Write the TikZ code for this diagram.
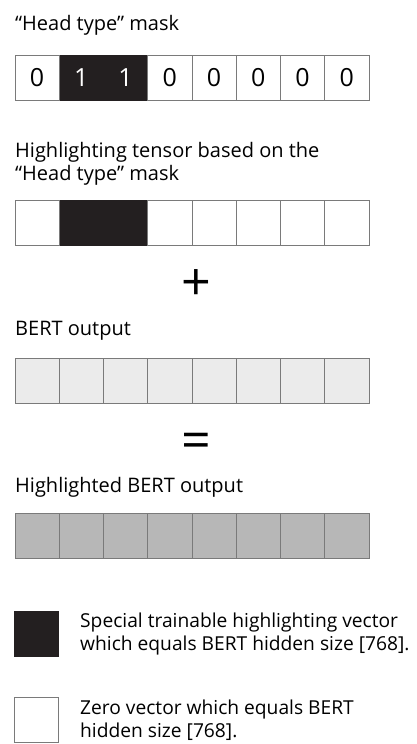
\documentclass[tikz,border=0pt]{standalone}
\usepackage{fontspec}
\setmainfont{Open Sans}
\usetikzlibrary{positioning}
\definecolor{hlblack}{HTML}{231F20}
\definecolor{bertgray}{HTML}{EBEBEB}
\definecolor{outgray}{HTML}{B7B7B7}
\definecolor{edge}{HTML}{7A7A7A}

\begin{document}
\begin{tikzpicture}[x=1pt, y=-1pt, font=\fontsize{20}{23}\selectfont,
    cell/.style={draw=edge, line width=1pt, minimum width=44.25pt, minimum height=45.5pt,
                 inner sep=0pt, outer sep=0pt, anchor=north west},
    title/.style={anchor=base west, inner sep=0pt, align=left}]
    \useasboundingbox (0, 0) rectangle (417, 744);

    \node[title] (masktitle) at (15, 30) {“Head type” mask};
    \foreach \v/\f/\d/\t [count=\i from 0] in {0/white/edge/black, 1/hlblack/hlblack/white, 1/hlblack/hlblack/white,
                                              0/white/edge/black, 0/white/edge/black, 0/white/edge/black,
                                              0/white/edge/black, 0/white/edge/black}
        \node[cell, fill=\f, draw=\d, text=\t, font=\fontsize{25}{25}\selectfont] (mask\i) at (15 + 44.25*\i, 55) {\v};
    \draw[edge, line width=1pt] (mask0.north east) -- (mask0.south east) (mask3.north west) -- (mask3.south west);

    \node[title] (hltitle) at (15, 180) {Highlighting tensor based on the\\“Head type” mask};
    \foreach \f/\d [count=\i from 0] in {white/edge, hlblack/hlblack, hlblack/hlblack, white/edge,
                                         white/edge, white/edge, white/edge, white/edge}
        \node[cell, fill=\f, draw=\d] (hl\i) at (15 + 44.25*\i, 200) {};
    \draw[edge, line width=1pt] (hl0.north east) -- (hl0.south east) (hl3.north west) -- (hl3.south west);

    \node[inner sep=0pt, font=\fontsize{52}{52}\selectfont] (plus) at (196, 285) {+};

    \node[title] (berttitle) at (15, 335) {BERT output};
    \foreach \i in {0,...,7}
        \node[cell, fill=bertgray] (bert\i) at (15 + 44.25*\i, 358) {};

    \node[inner sep=0pt, font=\fontsize{52}{52}\selectfont] (equals) at (196, 445.5) {=};

    \node[title] (outtitle) at (15, 492) {Highlighted BERT output};
    \foreach \i in {0,...,7}
        \node[cell, fill=outgray] (out\i) at (15 + 44.25*\i, 513) {};

    % legend
    \node[cell, fill=hlblack, draw=hlblack] (legblack) at (14, 611) {};
    \node[title, font=\fontsize{19.2}{23}\selectfont] (legblacktext) at (80, 650) {Special trainable highlighting vector\\which equals BERT hidden size [768].};
    \node[cell, fill=white] (legwhite) at (14, 697) {};
    \node[title, font=\fontsize{19.2}{23}\selectfont] (legwhitetext) at (80, 737) {Zero vector which equals BERT\\hidden size [768].};
\end{tikzpicture}
\end{document}
